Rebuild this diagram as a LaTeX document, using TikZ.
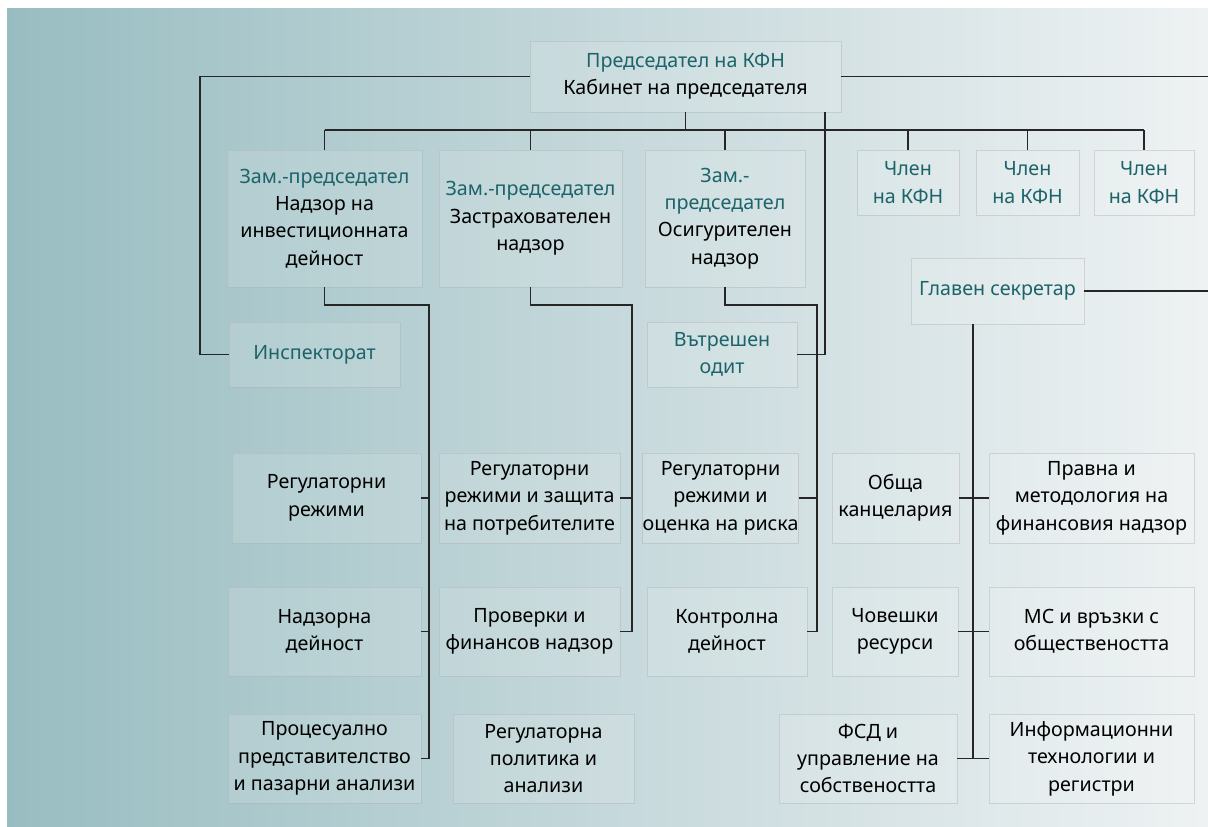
\documentclass[tikz,border=0pt]{standalone}
\usepackage{fontspec}
\setmainfont{Noto Sans}[Script=Cyrillic,Language=Bulgarian]
\usepackage{tikz}
\usetikzlibrary{calc,positioning}
\definecolor{kfnteal}{RGB}{28,100,106}
\definecolor{bgleft}{RGB}{152,189,193}
\definecolor{bgmid}{RGB}{197,216,219}
\definecolor{bgright}{RGB}{238,242,243}
\newcommand{\kfnhead}[1]{\textcolor{kfnteal}{#1}}

\begin{document}
\begin{tikzpicture}[x=0.025cm,y=-0.025cm,
		box/.style={shape=rectangle,draw=black!30,draw opacity=0.45,fill=white,fill opacity=0.12,text opacity=1,align=center,inner sep=0pt,font=\fontsize{14}{19.5}\selectfont},
		boxsize/.style 2 args={minimum width=#1*0.025cm,minimum height=#2*0.025cm},
		link/.style={draw=black!85,line width=0.9pt}]
		\useasboundingbox (0,0) rectangle (1208,827);
		\shade[left color=bgleft,right color=bgright,middle color=bgmid] (7,9) rectangle (1208,827);
		% top level
		\node(chair) at (685.5,76.5) [box,boxsize={311}{71}] {\kfnhead{Председател на КФН}\\Кабинет на председателя};
		\node(dep1) at (324.5,218.5) [box,boxsize={195}{137}] {\kfnhead{Зам.-председател}\\Надзор на\\инвестиционната\\дейност};
		\node(dep2) at (530.5,218.5) [box,boxsize={183}{137}] {\kfnhead{Зам.-председател}\\Застрахователен\\надзор};
		\node(dep3) at (725,218.5) [box,boxsize={160}{137}] {\kfnhead{Зам.-}\\\kfnhead{председател}\\Осигурителен\\надзор};
		\node(mem1) at (908,182.5) [box,boxsize={102}{65}] {\kfnhead{Член}\\\kfnhead{на КФН}};
		\node(mem2) at (1027.5,182.5) [box,boxsize={103}{65}] {\kfnhead{Член}\\\kfnhead{на КФН}};
		\node(mem3) at (1144,182.5) [box,boxsize={100}{65}] {\kfnhead{Член}\\\kfnhead{на КФН}};
		\node(secr) at (997.5,291) [box,boxsize={173}{66}] {\kfnhead{Главен секретар}};
		\node(insp) at (314.5,354.5) [box,boxsize={171}{65}] {\kfnhead{Инспекторат}};
		\node(audit) at (722,354.5) [box,boxsize={150}{65}] {\kfnhead{Вътрешен}\\\kfnhead{одит}};
		% directorates
		\node(reg1) at (326.5,498) [box,boxsize={189}{90}] {Регулаторни\\режими};
		\node(reg2) at (529.5,498) [box,boxsize={181}{90}] {Регулаторни\\режими и защита\\на потребителите};
		\node(reg3) at (720.5,498) [box,boxsize={151}{90}] {Регулаторни\\режими и\\оценка на риска};
		\node(office) at (895.5,498) [box,boxsize={127}{90}] {Обща\\канцелария};
		\node(legal) at (1091.5,498) [box,boxsize={205}{90}] {Правна и\\методология на\\финансовия надзор};
		\node(superv) at (324.5,631.5) [box,boxsize={193}{89}] {Надзорна\\дейност};
		\node(checks) at (529.5,631.5) [box,boxsize={181}{89}] {Проверки и\\финансов надзор};
		\node(control) at (727,631.5) [box,boxsize={160}{89}] {Контролна\\дейност};
		\node(hr) at (895,631.5) [box,boxsize={126}{89}] {Човешки\\ресурси};
		\node(media) at (1091.5,631.5) [box,boxsize={205}{89}] {МС и връзки с\\обществеността};
		\node(legalrep) at (324.5,758.5) [box,boxsize={193}{89}] {Процесуално\\представителство\\и пазарни анализи};
		\node(policy) at (543.5,758.5) [box,boxsize={181}{89}] {Регулаторна\\политика и\\анализи};
		\node(fsd) at (868,758.5) [box,boxsize={178}{89}] {ФСД и\\управление на\\собствеността};
		\node(it) at (1091.5,758.5) [box,boxsize={205}{89}] {Информационни\\технологии и\\регистри};
		% connectors
		\coordinate (bus) at (0,130);
		\coordinate (lft) at (200,0);
		\coordinate (rgt) at (1208,0);
		\coordinate (aud) at (825,0);
		\coordinate (sec) at (973,0);
		\coordinate (d1) at (429,305);
		\coordinate (d2) at (632,305);
		\coordinate (d3) at (817,305);
		\draw[link] (chair.west) -| (lft |- insp.west) -- (insp.west);
		\draw[link] (chair.east) -- (chair.east -| rgt);
		\draw[link] (chair.south) -- (chair.south |- bus);
		\draw[link] (dep1.north |- bus) -- (mem3.north |- bus);
		\foreach \n in {dep1,dep2,dep3,mem1,mem2,mem3}
			\draw[link] (\n.north |- bus) -- (\n.north);
		\draw[link] (aud |- chair.south) |- (audit.east);
		\draw[link] (secr.east) -- (secr.east -| rgt);
		\draw[link] (secr.south -| sec) -- (sec |- fsd.east);
		\draw[link] (office) -- (legal);
		\draw[link] (hr) -- (media);
		\draw[link] (fsd) -- (it);
		\draw[link] (dep1.south) |- (d1) -- (d1 |- legalrep.east) -- (legalrep.east);
		\foreach \n in {reg1,superv}
			\draw[link] (\n.east) -- (\n.east -| d1);
		\draw[link] (dep2.south) |- (d2) -- (d2 |- checks.east) -- (checks.east);
		\draw[link] (reg2.east) -- (reg2.east -| d2);
		\draw[link] (dep3.south) |- (d3) -- (d3 |- control.east) -- (control.east);
		\draw[link] (reg3.east) -- (reg3.east -| d3);
	\end{tikzpicture}
\end{document}
